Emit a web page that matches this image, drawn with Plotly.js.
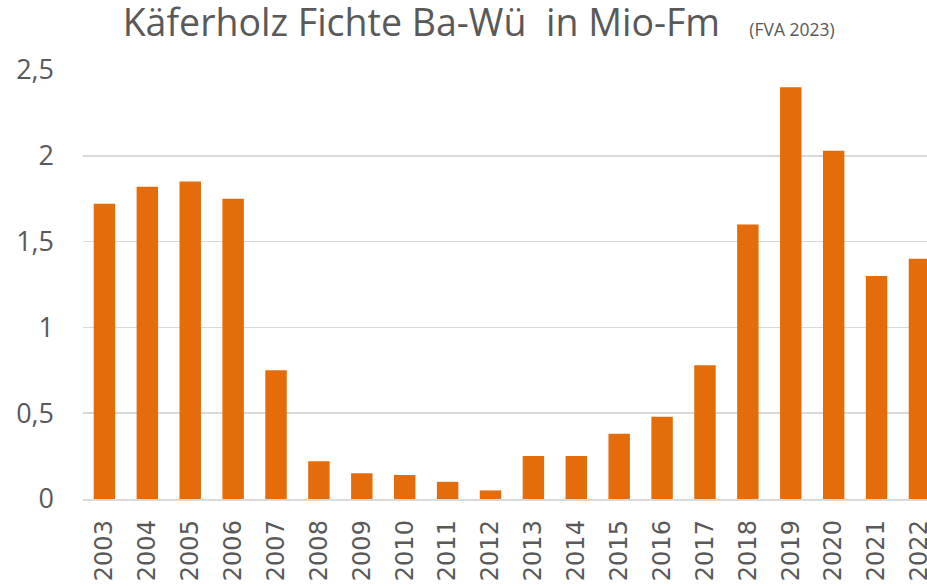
<!DOCTYPE html>
<html>
<head>
<meta charset="utf-8">
<script src="https://cdn.plot.ly/plotly-3.0.1.min.js"></script>
<style>html,body{margin:0;padding:0;background:#fff;}#chart{width:927px;height:586px;}</style>
</head>
<body>
<div id="chart"></div>
<script>
const years = ["2003","2004","2005","2006","2007","2008","2009","2010","2011","2012","2013","2014","2015","2016","2017","2018","2019","2020","2021","2022"];
const kaeferholz = [1.72,1.82,1.85,1.75,0.75,0.22,0.15,0.14,0.10,0.05,0.25,0.25,0.38,0.48,0.78,1.60,2.40,2.03,1.30,1.40];
const yTickVals = [0,0.5,1,1.5,2,2.5];
const yTickText = ["0","0,5","1","1,5","2","2,5"];
const titleMain = "Käferholz Fichte Ba-Wü\u00a0\u00a0in Mio-Fm";
const titleSource = "(FVA 2023)";

const trace = {
  type: "bar",
  x: years,
  y: kaeferholz,
  marker: {color: "#E46C0A", line: {width: 0}},
  hoverinfo: "skip"
};

const layout = {
  width: 927, height: 586,
  margin: {l: 83, r: 0, t: 70, b: 87},
  paper_bgcolor: "#fff", plot_bgcolor: "#fff",
  bargap: 0.5,
  showlegend: false,
  title: {
    text: titleMain + "\u00a0\u00a0\u00a0<span style='font-size:17.5px'>" + titleSource + "</span>",
    font: {family: "Open Sans", size: 37.5, color: "#595959"},
    xref: "paper", x: 0.047, xanchor: "left",
    yref: "container", y: 0.983, yanchor: "top"
  },
  xaxis: {
    type: "category",
    range: [-0.5, 19.176],
    tickangle: -90,
    tickfont: {family: "DejaVu Sans", size: 24, color: "#595959"},
    ticks: "",
    ticklabelstandoff: 10,
    showgrid: false,
    showline: true, linecolor: "#D9D9D9", linewidth: 1.5,
    fixedrange: true
  },
  yaxis: {
    range: [0, 2.5],
    tickvals: yTickVals,
    ticktext: yTickText,
    tickfont: {family: "Open Sans", size: 27, color: "#595959"},
    ticks: "",
    ticklabelstandoff: 28,
    showgrid: true, gridcolor: "#D9D9D9", gridwidth: 1.5,
    zeroline: false,
    showline: false,
    fixedrange: true
  }
};

Plotly.newPlot("chart", [trace], layout, {staticPlot: true, displayModeBar: false});
</script>
</body>
</html>
